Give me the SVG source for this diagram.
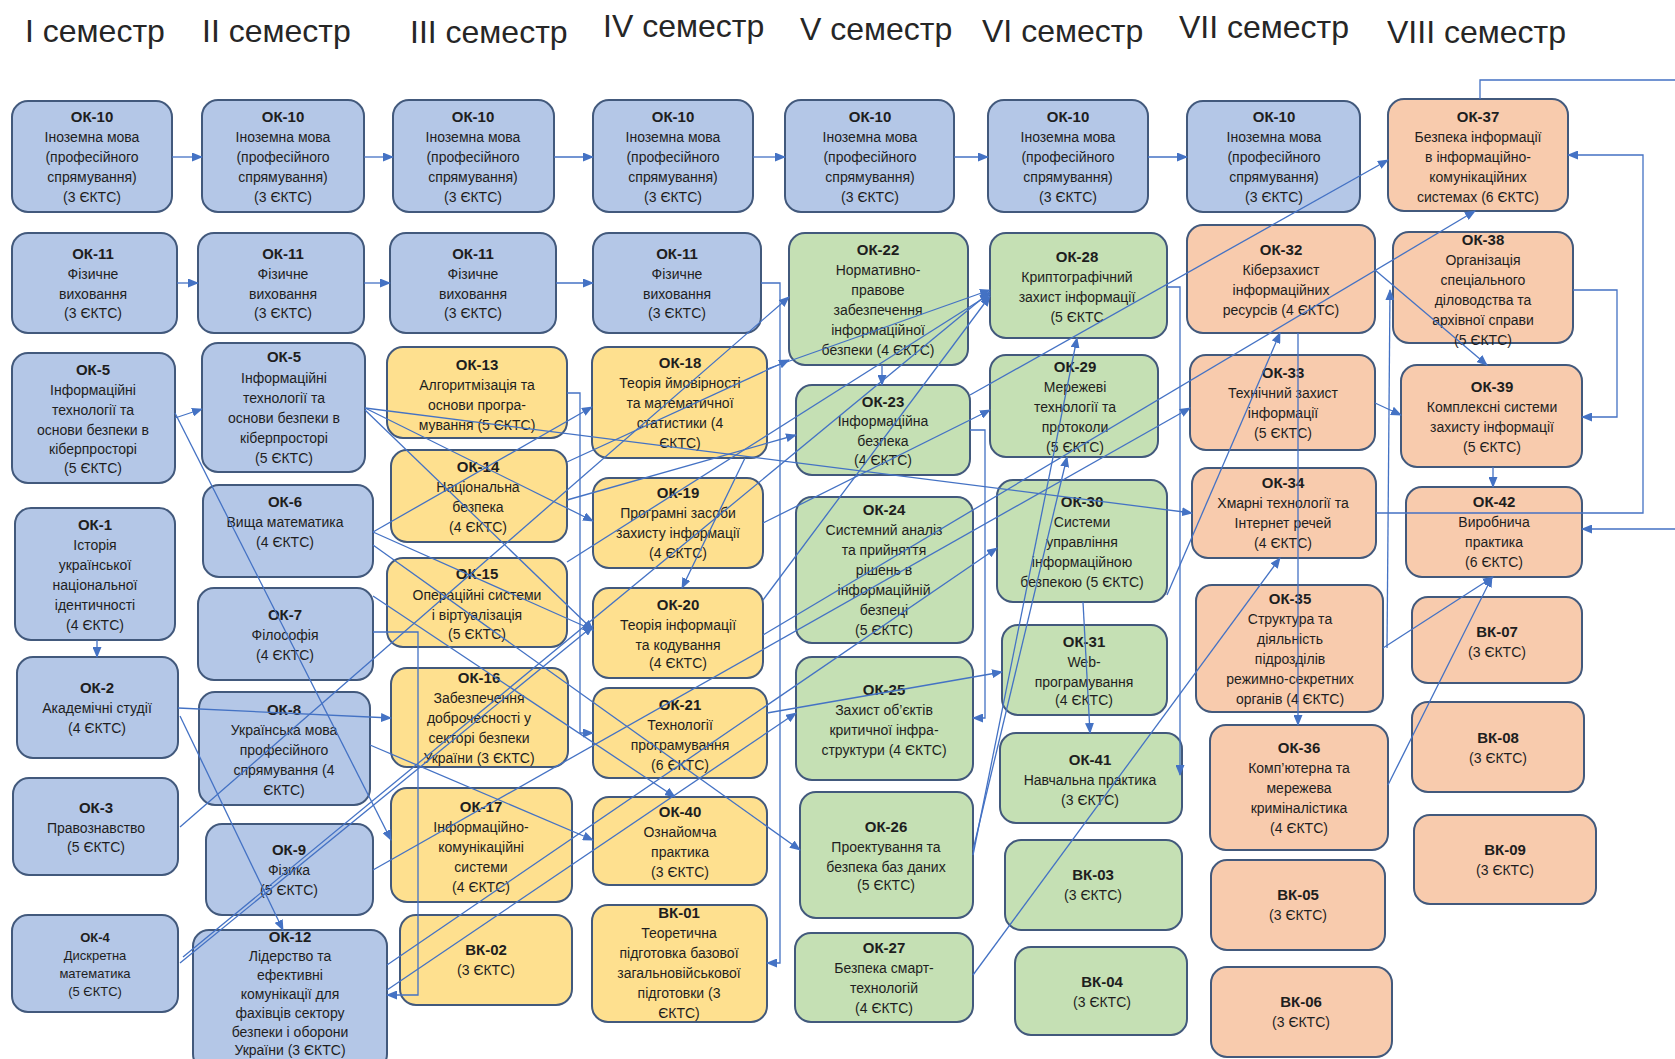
<svg xmlns="http://www.w3.org/2000/svg" width="1675" height="1059" viewBox="0 0 1675 1059">
<style>
text{font-family:"Liberation Sans",Arial,sans-serif;fill:#1e1e1e}
.t{font-size:14px;text-anchor:middle}
.b{font-weight:bold;font-size:15px}
.s{font-size:13px}
.h{font-size:32px;fill:#262626}
.node rect{stroke:#42597c;stroke-width:2}
.bl rect{fill:#b4c7e7}
.ye rect{fill:#fee08f}
.gr rect{fill:#c5e0b4}
.or rect{fill:#f8cbad}
#connectors path{fill:none;stroke:#4472c4;stroke-width:1.3;marker-end:url(#a)}
</style>
<defs>
<marker id="a" markerUnits="userSpaceOnUse" markerWidth="11" markerHeight="9" refX="10" refY="4.5" orient="auto"><path d="M0,0 L11,4.5 L0,9 z" fill="#4472c4"/></marker>
</defs>
<rect x="0" y="0" width="1675" height="1059" style="fill:#fff;stroke:none"/>
<g id="headers">
<text class="h" x="25" y="42">І семестр</text>
<text class="h" x="202" y="42">ІІ семестр</text>
<text class="h" x="410" y="43">ІІІ семестр</text>
<text class="h" x="603" y="37">ІV семестр</text>
<text class="h" x="800" y="40">V семестр</text>
<text class="h" x="982" y="42">VІ семестр</text>
<text class="h" x="1179" y="38">VІІ семестр</text>
<text class="h" x="1387" y="43">VІІІ семестр</text>
</g>
<!-- Column I -->
<g id="c1_ok10" class="node bl"><rect x="12" y="101" width="160" height="111" rx="16"/>
<text class="t b" x="92" y="122">ОК-10</text><text class="t" x="92" y="142">Іноземна мова</text><text class="t" x="92" y="162">(професійного</text><text class="t" x="92" y="182">спрямування)</text><text class="t" x="92" y="202">(3 ЄКТС)</text></g>
<g id="c1_ok11" class="node bl"><rect x="12" y="233" width="165" height="100" rx="16"/>
<text class="t b" x="93" y="259">ОК-11</text><text class="t" x="93" y="279">Фізичне</text><text class="t" x="93" y="299">виховання</text><text class="t" x="93" y="318">(3 ЄКТС)</text></g>
<g id="c1_ok5" class="node bl"><rect x="12" y="353" width="163" height="130" rx="16"/>
<text class="t b" x="93" y="375">ОК-5</text><text class="t" x="93" y="395">Інформаційні</text><text class="t" x="93" y="415">технології  та</text><text class="t" x="93" y="435">основи безпеки в</text><text class="t" x="93" y="454">кіберпросторі</text><text class="t" x="93" y="473">(5 ЄКТС)</text></g>
<g id="c1_ok1" class="node bl"><rect x="15" y="508" width="160" height="132" rx="16"/>
<text class="t b" x="95" y="530">ОК-1</text><text class="t" x="95" y="550">Історія</text><text class="t" x="95" y="570">української</text><text class="t" x="95" y="590">національної</text><text class="t" x="95" y="610">ідентичності</text><text class="t" x="95" y="630">(4 ЄКТС)</text></g>
<g id="c1_ok2" class="node bl"><rect x="17" y="657" width="161" height="101" rx="16"/>
<text class="t b" x="97" y="693">ОК-2</text><text class="t" x="97" y="713">Академічні студії</text><text class="t" x="97" y="733">(4 ЄКТС)</text></g>
<g id="c1_ok3" class="node bl"><rect x="13" y="778" width="165" height="97" rx="16"/>
<text class="t b" x="96" y="813">ОК-3</text><text class="t" x="96" y="833">Правознавство</text><text class="t" x="96" y="852">(5 ЄКТС)</text></g>
<g id="c1_ok4" class="node bl"><rect x="12" y="915" width="166" height="97" rx="16"/>
<text class="t b s" x="95" y="942">ОК-4</text><text class="t s" x="95" y="960">Дискретна</text><text class="t s" x="95" y="978">математика</text><text class="t s" x="95" y="996">(5 ЄКТС)</text></g>
<!-- Column II -->
<g id="c2_ok10" class="node bl"><rect x="202" y="100" width="162" height="112" rx="16"/>
<text class="t b" x="283" y="122">ОК-10</text><text class="t" x="283" y="142">Іноземна мова</text><text class="t" x="283" y="162">(професійного</text><text class="t" x="283" y="182">спрямування)</text><text class="t" x="283" y="202">(3 ЄКТС)</text></g>
<g id="c2_ok11" class="node bl"><rect x="198" y="233" width="166" height="100" rx="16"/>
<text class="t b" x="283" y="259">ОК-11</text><text class="t" x="283" y="279">Фізичне</text><text class="t" x="283" y="299">виховання</text><text class="t" x="283" y="318">(3 ЄКТС)</text></g>
<g id="c2_ok5" class="node bl"><rect x="202" y="343" width="163" height="129" rx="16"/>
<text class="t b" x="284" y="362">ОК-5</text><text class="t" x="284" y="383">Інформаційні</text><text class="t" x="284" y="403">технології  та</text><text class="t" x="284" y="423">основи безпеки в</text><text class="t" x="284" y="443">кіберпросторі</text><text class="t" x="284" y="463">(5 ЄКТС)</text></g>
<g id="c2_ok6" class="node bl"><rect x="203" y="485" width="170" height="92" rx="16"/>
<text class="t b" x="285" y="507">ОК-6</text><text class="t" x="285" y="527">Вища математика</text><text class="t" x="285" y="547">(4 ЄКТС)</text></g>
<g id="c2_ok7" class="node bl"><rect x="198" y="588" width="175" height="92" rx="16"/>
<text class="t b" x="285" y="620">ОК-7</text><text class="t" x="285" y="640">Філософія</text><text class="t" x="285" y="660">(4 ЄКТС)</text></g>
<g id="c2_ok8" class="node bl"><rect x="199" y="692" width="171" height="113" rx="16"/>
<text class="t b" x="284" y="715">ОК-8</text><text class="t" x="284" y="735">Українська мова</text><text class="t" x="284" y="755">професійного</text><text class="t" x="284" y="775">спрямування  (4</text><text class="t" x="284" y="795">ЄКТС)</text></g>
<g id="c2_ok9" class="node bl"><rect x="206" y="824" width="167" height="91" rx="16"/>
<text class="t b" x="289" y="855">ОК-9</text><text class="t" x="289" y="875">Фізика</text><text class="t" x="289" y="895">(5 ЄКТС)</text></g>
<g id="c2_ok12" class="node bl"><rect x="193" y="930" width="194" height="140" rx="16"/>
<text class="t b" x="290" y="942">ОК-12</text><text class="t" x="290" y="961">Лідерство та</text><text class="t" x="290" y="980">ефективні</text><text class="t" x="290" y="999">комунікації для</text><text class="t" x="290" y="1018">фахівців сектору</text><text class="t" x="290" y="1037">безпеки і оборони</text><text class="t" x="290" y="1055">України (3 ЄКТС)</text></g>
<!-- Column III -->
<g id="c3_ok10" class="node bl"><rect x="393" y="100" width="161" height="112" rx="16"/>
<text class="t b" x="473" y="122">ОК-10</text><text class="t" x="473" y="142">Іноземна мова</text><text class="t" x="473" y="162">(професійного</text><text class="t" x="473" y="182">спрямування)</text><text class="t" x="473" y="202">(3 ЄКТС)</text></g>
<g id="c3_ok11" class="node bl"><rect x="390" y="233" width="166" height="100" rx="16"/>
<text class="t b" x="473" y="259">ОК-11</text><text class="t" x="473" y="279">Фізичне</text><text class="t" x="473" y="299">виховання</text><text class="t" x="473" y="318">(3 ЄКТС)</text></g>
<g id="c3_ok13" class="node ye"><rect x="387" y="347" width="180" height="91" rx="16"/>
<text class="t b" x="477" y="370">ОК-13</text><text class="t" x="477" y="390">Алгоритмізація та</text><text class="t" x="477" y="410">основи програ-</text><text class="t" x="477" y="430">мування (5 ЄКТС)</text></g>
<g id="c3_ok14" class="node ye"><rect x="391" y="450" width="176" height="92" rx="16"/>
<text class="t b" x="478" y="472">ОК-14</text><text class="t" x="478" y="492">Національна</text><text class="t" x="478" y="512">безпека</text><text class="t" x="478" y="532">(4 ЄКТС)</text></g>
<g id="c3_ok15" class="node ye"><rect x="387" y="558" width="180" height="89" rx="16"/>
<text class="t b" x="477" y="579">ОК-15</text><text class="t" x="477" y="600">Операційні системи</text><text class="t" x="477" y="620">і віртуалізація</text><text class="t" x="477" y="639">(5 ЄКТС)</text></g>
<g id="c3_ok16" class="node ye"><rect x="391" y="668" width="177" height="99" rx="16"/>
<text class="t b" x="479" y="683">ОК-16</text><text class="t" x="479" y="703">Забезпечення</text><text class="t" x="479" y="723">доброчесності у</text><text class="t" x="479" y="743">секторі безпеки</text><text class="t" x="479" y="763">України (3 ЄКТС)</text></g>
<g id="c3_ok17" class="node ye"><rect x="391" y="788" width="181" height="114" rx="16"/>
<text class="t b" x="481" y="812">ОК-17</text><text class="t" x="481" y="832">Інформаційно-</text><text class="t" x="481" y="852">комунікаційні</text><text class="t" x="481" y="872">системи</text><text class="t" x="481" y="892">(4 ЄКТС)</text></g>
<g id="c3_vk02" class="node ye"><rect x="400" y="915" width="172" height="90" rx="16"/>
<text class="t b" x="486" y="955">ВК-02</text><text class="t" x="486" y="975">(3 ЄКТС)</text></g>
<!-- Column IV -->
<g id="c4_ok10" class="node bl"><rect x="593" y="100" width="160" height="112" rx="16"/>
<text class="t b" x="673" y="122">ОК-10</text><text class="t" x="673" y="142">Іноземна мова</text><text class="t" x="673" y="162">(професійного</text><text class="t" x="673" y="182">спрямування)</text><text class="t" x="673" y="202">(3 ЄКТС)</text></g>
<g id="c4_ok11" class="node bl"><rect x="593" y="233" width="168" height="100" rx="16"/>
<text class="t b" x="677" y="259">ОК-11</text><text class="t" x="677" y="279">Фізичне</text><text class="t" x="677" y="299">виховання</text><text class="t" x="677" y="318">(3 ЄКТС)</text></g>
<g id="c4_ok18" class="node ye"><rect x="592" y="347" width="175" height="111" rx="16"/>
<text class="t b" x="680" y="368">ОК-18</text><text class="t" x="680" y="388">Теорія ймовірності</text><text class="t" x="680" y="408">та математичної</text><text class="t" x="680" y="428">статистики  (4</text><text class="t" x="680" y="448">ЄКТС)</text></g>
<g id="c4_ok19" class="node ye"><rect x="593" y="478" width="170" height="90" rx="16"/>
<text class="t b" x="678" y="498">ОК-19</text><text class="t" x="678" y="518">Програмні засоби</text><text class="t" x="678" y="538">захисту інформації</text><text class="t" x="678" y="558">(4 ЄКТС)</text></g>
<g id="c4_ok20" class="node ye"><rect x="593" y="588" width="170" height="90" rx="16"/>
<text class="t b" x="678" y="610">ОК-20</text><text class="t" x="678" y="630">Теорія інформації</text><text class="t" x="678" y="650">та кодування</text><text class="t" x="678" y="668">(4 ЄКТС)</text></g>
<g id="c4_ok21" class="node ye"><rect x="593" y="688" width="174" height="90" rx="16"/>
<text class="t b" x="680" y="710">ОК-21</text><text class="t" x="680" y="730">Технології</text><text class="t" x="680" y="750">програмування</text><text class="t" x="680" y="770">(6 ЄКТС)</text></g>
<g id="c4_ok40" class="node ye"><rect x="593" y="797" width="174" height="88" rx="16"/>
<text class="t b" x="680" y="817">ОК-40</text><text class="t" x="680" y="837">Ознайомча</text><text class="t" x="680" y="857">практика</text><text class="t" x="680" y="877">(3 ЄКТС)</text></g>
<g id="c4_vk01" class="node ye"><rect x="592" y="905" width="175" height="117" rx="16"/>
<text class="t b" x="679" y="918">ВК-01</text><text class="t" x="679" y="938">Теоретична</text><text class="t" x="679" y="958">підготовка базової</text><text class="t" x="679" y="978">загальновійськової</text><text class="t" x="679" y="998">підготовки  (3</text><text class="t" x="679" y="1018">ЄКТС)</text></g>
<!-- Column V -->
<g id="c5_ok10" class="node bl"><rect x="785" y="100" width="169" height="112" rx="16"/>
<text class="t b" x="870" y="122">ОК-10</text><text class="t" x="870" y="142">Іноземна мова</text><text class="t" x="870" y="162">(професійного</text><text class="t" x="870" y="182">спрямування)</text><text class="t" x="870" y="202">(3 ЄКТС)</text></g>
<g id="c5_ok22" class="node gr"><rect x="789" y="233" width="179" height="132" rx="16"/>
<text class="t b" x="878" y="255">ОК-22</text><text class="t" x="878" y="275">Нормативно-</text><text class="t" x="878" y="295">правове</text><text class="t" x="878" y="315">забезпечення</text><text class="t" x="878" y="335">інформаційної</text><text class="t" x="878" y="355">безпеки (4 ЄКТС)</text></g>
<g id="c5_ok23" class="node gr"><rect x="796" y="385" width="174" height="90" rx="16"/>
<text class="t b" x="883" y="407">ОК-23</text><text class="t" x="883" y="426">Інформаційна</text><text class="t" x="883" y="446">безпека</text><text class="t" x="883" y="465">(4 ЄКТС)</text></g>
<g id="c5_ok24" class="node gr"><rect x="796" y="497" width="177" height="146" rx="16"/>
<text class="t b" x="884" y="515">ОК-24</text><text class="t" x="884" y="535">Системний аналіз</text><text class="t" x="884" y="555">та прийняття</text><text class="t" x="884" y="575">рішень в</text><text class="t" x="884" y="595">інформаційній</text><text class="t" x="884" y="615">безпеці</text><text class="t" x="884" y="635">(5 ЄКТС)</text></g>
<g id="c5_ok25" class="node gr"><rect x="796" y="657" width="177" height="123" rx="16"/>
<text class="t b" x="884" y="695">ОК-25</text><text class="t" x="884" y="715">Захист об’єктів</text><text class="t" x="884" y="735">критичної інфра-</text><text class="t" x="884" y="755">структури (4 ЄКТС)</text></g>
<g id="c5_ok26" class="node gr"><rect x="800" y="792" width="173" height="126" rx="16"/>
<text class="t b" x="886" y="832">ОК-26</text><text class="t" x="886" y="852">Проектування та</text><text class="t" x="886" y="872">безпека баз даних</text><text class="t" x="886" y="890">(5 ЄКТС)</text></g>
<g id="c5_ok27" class="node gr"><rect x="795" y="933" width="178" height="89" rx="16"/>
<text class="t b" x="884" y="953">ОК-27</text><text class="t" x="884" y="973">Безпека смарт-</text><text class="t" x="884" y="993">технологій</text><text class="t" x="884" y="1013">(4 ЄКТС)</text></g>
<!-- Column VI -->
<g id="c6_ok10" class="node bl"><rect x="988" y="100" width="160" height="112" rx="16"/>
<text class="t b" x="1068" y="122">ОК-10</text><text class="t" x="1068" y="142">Іноземна мова</text><text class="t" x="1068" y="162">(професійного</text><text class="t" x="1068" y="182">спрямування)</text><text class="t" x="1068" y="202">(3 ЄКТС)</text></g>
<g id="c6_ok28" class="node gr"><rect x="990" y="233" width="177" height="105" rx="16"/>
<text class="t b" x="1077" y="262">ОК-28</text><text class="t" x="1077" y="282">Криптографічний</text><text class="t" x="1077" y="302">захист інформації</text><text class="t" x="1077" y="322">(5 ЄКТС</text></g>
<g id="c6_ok29" class="node gr"><rect x="990" y="355" width="168" height="102" rx="16"/>
<text class="t b" x="1075" y="372">ОК-29</text><text class="t" x="1075" y="392">Мережеві</text><text class="t" x="1075" y="412">технології та</text><text class="t" x="1075" y="432">протоколи</text><text class="t" x="1075" y="452">(5 ЄКТС)</text></g>
<g id="c6_ok30" class="node gr"><rect x="997" y="480" width="170" height="122" rx="16"/>
<text class="t b" x="1082" y="507">ОК-30</text><text class="t" x="1082" y="527">Системи</text><text class="t" x="1082" y="547">управління</text><text class="t" x="1082" y="567">інформаційною</text><text class="t" x="1082" y="587">безпекою (5 ЄКТС)</text></g>
<g id="c6_ok31" class="node gr"><rect x="1002" y="625" width="165" height="90" rx="16"/>
<text class="t b" x="1084" y="647">ОК-31</text><text class="t" x="1084" y="667">Web-</text><text class="t" x="1084" y="687">програмування</text><text class="t" x="1084" y="705">(4 ЄКТС)</text></g>
<g id="c6_ok41" class="node gr"><rect x="1000" y="733" width="182" height="90" rx="16"/>
<text class="t b" x="1090" y="765">ОК-41</text><text class="t" x="1090" y="785">Навчальна практика</text><text class="t" x="1090" y="805">(3 ЄКТС)</text></g>
<g id="c6_vk03" class="node gr"><rect x="1005" y="840" width="177" height="90" rx="16"/>
<text class="t b" x="1093" y="880">ВК-03</text><text class="t" x="1093" y="900">(3 ЄКТС)</text></g>
<g id="c6_vk04" class="node gr"><rect x="1015" y="947" width="172" height="88" rx="16"/>
<text class="t b" x="1102" y="987">ВК-04</text><text class="t" x="1102" y="1007">(3 ЄКТС)</text></g>
<!-- Column VII -->
<g id="c7_ok10" class="node bl"><rect x="1187" y="101" width="173" height="111" rx="16"/>
<text class="t b" x="1274" y="122">ОК-10</text><text class="t" x="1274" y="142">Іноземна мова</text><text class="t" x="1274" y="162">(професійного</text><text class="t" x="1274" y="182">спрямування)</text><text class="t" x="1274" y="202">(3 ЄКТС)</text></g>
<g id="c7_ok32" class="node or"><rect x="1187" y="225" width="188" height="108" rx="16"/>
<text class="t b" x="1281" y="255">ОК-32</text><text class="t" x="1281" y="275">Кіберзахист</text><text class="t" x="1281" y="295">інформаційних</text><text class="t" x="1281" y="315">ресурсів (4 ЄКТС)</text></g>
<g id="c7_ok33" class="node or"><rect x="1190" y="355" width="185" height="95" rx="16"/>
<text class="t b" x="1283" y="378">ОК-33</text><text class="t" x="1283" y="398">Технічний захист</text><text class="t" x="1283" y="418">інформації</text><text class="t" x="1283" y="438">(5 ЄКТС)</text></g>
<g id="c7_ok34" class="node or"><rect x="1192" y="468" width="184" height="90" rx="16"/>
<text class="t b" x="1283" y="488">ОК-34</text><text class="t" x="1283" y="508">Хмарні технології та</text><text class="t" x="1283" y="528">Інтернет речей</text><text class="t" x="1283" y="548">(4 ЄКТС)</text></g>
<g id="c7_ok35" class="node or"><rect x="1196" y="585" width="187" height="127" rx="16"/>
<text class="t b" x="1290" y="604">ОК-35</text><text class="t" x="1290" y="624">Структура та</text><text class="t" x="1290" y="644">діяльність</text><text class="t" x="1290" y="664">підрозділів</text><text class="t" x="1290" y="684">режимно-секретних</text><text class="t" x="1290" y="704">органів (4 ЄКТС)</text></g>
<g id="c7_ok36" class="node or"><rect x="1210" y="725" width="178" height="125" rx="16"/>
<text class="t b" x="1299" y="753">ОК-36</text><text class="t" x="1299" y="773">Комп’ютерна та</text><text class="t" x="1299" y="793">мережева</text><text class="t" x="1299" y="813">криміналістика</text><text class="t" x="1299" y="833">(4 ЄКТС)</text></g>
<g id="c7_vk05" class="node or"><rect x="1211" y="860" width="174" height="90" rx="16"/>
<text class="t b" x="1298" y="900">ВК-05</text><text class="t" x="1298" y="920">(3 ЄКТС)</text></g>
<g id="c7_vk06" class="node or"><rect x="1211" y="967" width="181" height="90" rx="16"/>
<text class="t b" x="1301" y="1007">ВК-06</text><text class="t" x="1301" y="1027">(3 ЄКТС)</text></g>
<!-- Column VIII -->
<g id="c8_ok37" class="node or"><rect x="1388" y="99" width="180" height="112" rx="16"/>
<text class="t b" x="1478" y="122">ОК-37</text><text class="t" x="1478" y="142">Безпека інформації</text><text class="t" x="1478" y="162">в інформаційно-</text><text class="t" x="1478" y="182">комунікаційних</text><text class="t" x="1478" y="202">системах (6 ЄКТС)</text></g>
<g id="c8_ok38" class="node or"><rect x="1393" y="232" width="180" height="111" rx="16"/>
<text class="t b" x="1483" y="245">ОК-38</text><text class="t" x="1483" y="265">Організація</text><text class="t" x="1483" y="285">спеціального</text><text class="t" x="1483" y="305">діловодства та</text><text class="t" x="1483" y="325">архівної справи</text><text class="t" x="1483" y="345">(5 ЄКТС)</text></g>
<g id="c8_ok39" class="node or"><rect x="1401" y="365" width="181" height="102" rx="16"/>
<text class="t b" x="1492" y="392">ОК-39</text><text class="t" x="1492" y="412">Комплексні системи</text><text class="t" x="1492" y="432">захисту інформації</text><text class="t" x="1492" y="452">(5 ЄКТС)</text></g>
<g id="c8_ok42" class="node or"><rect x="1406" y="487" width="176" height="90" rx="16"/>
<text class="t b" x="1494" y="507">ОК-42</text><text class="t" x="1494" y="527">Виробнича</text><text class="t" x="1494" y="547">практика</text><text class="t" x="1494" y="567">(6 ЄКТС)</text></g>
<g id="c8_vk07" class="node or"><rect x="1412" y="597" width="170" height="86" rx="16"/>
<text class="t b" x="1497" y="637">ВК-07</text><text class="t" x="1497" y="657">(3 ЄКТС)</text></g>
<g id="c8_vk08" class="node or"><rect x="1412" y="702" width="172" height="90" rx="16"/>
<text class="t b" x="1498" y="743">ВК-08</text><text class="t" x="1498" y="763">(3 ЄКТС)</text></g>
<g id="c8_vk09" class="node or"><rect x="1414" y="815" width="182" height="89" rx="16"/>
<text class="t b" x="1505" y="855">ВК-09</text><text class="t" x="1505" y="875">(3 ЄКТС)</text></g>
<g id="connectors">
<path d="M172,157 H202"/><path d="M364,157 H393"/><path d="M554,157 H593"/><path d="M753,157 H785"/><path d="M954,157 H988"/><path d="M1148,157 H1187"/>
<path d="M177,283 H198"/><path d="M364,283 H390"/><path d="M556,283 H593"/>
<path d="M761,283 H780 V963 H767"/>
<path d="M175,418 L202,409"/>
<path d="M97,640 V657"/>
<path d="M175,413 L391,840"/>
<path d="M178,708 L391,718"/>
<path d="M180,716 L283,930"/>
<path d="M373,632 H418 V995 H387"/>
<path d="M567,393 H580 V733 H593"/>
<path d="M373,532 L592,407"/>
<path d="M373,532 L593,630"/>
<path d="M365,408 L1192,513"/>
<path d="M365,408 L593,521"/>
<path d="M365,410 L593,630"/>
<path d="M180,827 L789,297"/>
<path d="M180,963 L593,626"/>
<path d="M183,957 L990,292"/>
<path d="M767,369 L990,290"/>
<path d="M567,562 L990,294"/>
<path d="M763,600 L990,296"/>
<path d="M373,596 L675,797"/>
<path d="M370,745 L593,840"/>
<path d="M373,545 L800,850"/>
<path d="M567,500 L796,435"/>
<path d="M567,462 L789,360"/>
<path d="M745,458 L682,588"/>
<path d="M373,870 L1190,408"/>
<path d="M387,990 L796,713"/>
<path d="M387,965 L997,548"/>
<path d="M767,713 L1002,672"/>
<path d="M763,523 L990,410"/>
<path d="M763,635 L1475,211"/>
<path d="M970,395 L1388,160"/>
<path d="M882,365 V385"/>
<path d="M970,430 H985 V718 H973"/>
<path d="M1167,287 H1180 V775"/>
<path d="M1083,602 L1090,733"/>
<path d="M973,855 L1077,338"/>
<path d="M973,850 L1067,457"/>
<path d="M973,975 L1280,558"/>
<path d="M1167,595 L1280,333"/>
<path d="M1376,513 H1643 V155 H1568"/>
<path d="M1480,99 V80 H1690 V529 H1582"/>
<path d="M1573,290 H1617 V417 H1582"/>
<path d="M1493,467 V487"/>
<path d="M1375,403 L1401,415"/>
<path d="M1375,270 L1487,365"/>
<path d="M1383,648 L1493,577"/>
<path d="M1388,785 L1492,577"/>
<path d="M1387,648 L1390,290"/>
<path d="M1298,333 V725"/>
</g>
</svg>
